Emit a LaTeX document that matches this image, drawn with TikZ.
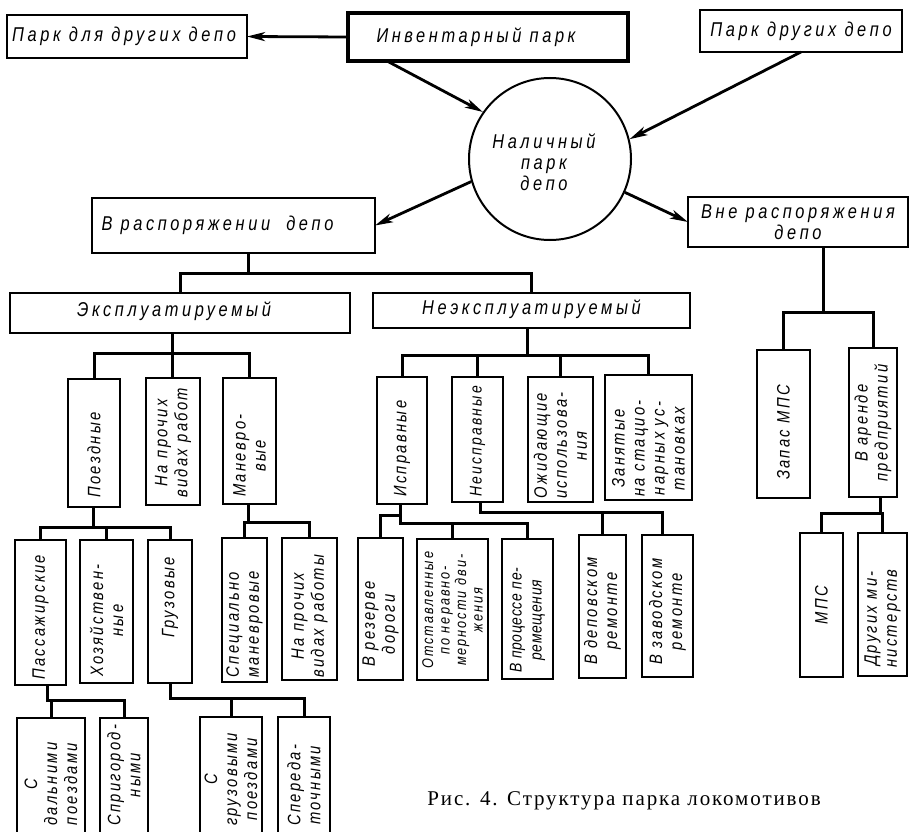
\documentclass[tikz,border=0pt]{standalone}
\usepackage{fontspec}
\setmainfont{Liberation Serif}
\newfontfamily\drafth[FakeStretch=0.82,LetterSpace=18]{Liberation Sans}
\newfontfamily\draftv[FakeStretch=0.82,LetterSpace=13]{Liberation Sans}
\newfontfamily\draftnarrow[FakeStretch=0.82,LetterSpace=4]{Liberation Sans}
\newfontfamily\capfont[LetterSpace=9]{Liberation Serif}
\usetikzlibrary{arrows.meta,calc}

\tikzset{
  boxline/.style={draw=black, line width=2pt, rectangle, inner sep=0pt, outer sep=0pt},
  heavybox/.style={boxline, line width=3.2pt},
  htext/.style={font=\drafth\itshape\fontsize{20}{21}\selectfont, align=center, inner sep=0pt},
  vtext/.style={font=\draftv\itshape\fontsize{18}{20}\selectfont, align=center, inner sep=0pt, rotate=90},
  link/.style={line width=3pt, line join=miter},
  arr/.style={line width=2.8pt, -{Stealth[length=18pt, width=9pt, inset=5pt]}},
}

% box spanning (x1,y1)-(x2,y2) in pixel units, y growing downwards
\newcommand{\boxat}[6][boxline]{%
  \node[#1, minimum width={(#5-#3)*1pt}, minimum height={(#6-#4)*1pt}]
    (#2) at ({(#3+#5)/2},{(#4+#6)/2}) {};}
% upright-reading text that starts a given distance above a box's bottom edge
\newcommand{\uptext}[4][]{%
  \node[vtext, anchor=west, #1] (#2t) at ($(#2.south)+(0,-#3)$) {#4};}

\begin{document}
\begin{tikzpicture}[x=1pt, y=-1pt]
\useasboundingbox (0,0) rectangle (910,832);
\clip (0,0) rectangle (910,832);

% ---------- top level ----------
\boxat{pdl}{7}{15}{247}{58}
\node[htext] (pdlt) at ([xshift=-3pt]pdl.center) {Парк для других депо};
\boxat[heavybox]{inv}{348}{13}{628}{61}
\node[htext] (invt) at ([xshift=-12pt]inv.center) {Инвентарный парк};
\boxat{pdd}{700}{10}{902}{52}
\node[htext] (pddt) at (pdd) {Парк других депо};

\node[draw, circle, line width=2pt, minimum size=162pt, inner sep=0pt] (circ) at (550,159) {};
\node[htext, text depth=0pt] (circt) at (544,162) {Наличный\\парк\\депо};

\boxat{vr}{92}{198}{375}{253}
\node[htext] (vrt) at ([xshift=-16pt]vr.center) {В распоряжении\hspace{8pt} депо};
\boxat{vne}{688}{197}{908}{247}
\node[htext] (vnet) at (vne) {Вне распоряжения\\депо};

\draw[arr] (inv.west) -- (pdl.east);
\draw[arr] ([xshift=39pt]inv.south west) -- (circ.145);
\draw[arr] (pdd.south) -- (circ.14);
\draw[arr] (circ.196) -- (vr.east);
\draw[arr] (circ.336) -- (vne.west);

% ---------- second level ----------
\boxat{expl}{10}{293}{350}{333}
\node[htext] (explt) at ([xshift=-6pt,yshift=2pt]expl.center) {Эксплуатируемый};
\boxat{nexpl}{373}{293}{690}{328}
\node[htext] (nexplt) at ([yshift=1pt]nexpl.center) {Неэксплуатируемый};

\coordinate (bvr) at (248,273);
\draw[link] (vr.south -| bvr) -- (bvr) -| (expl.north);
\draw[link] (bvr) -| (nexpl.north);

% ---------- exploited fleet ----------
\boxat{poezd}{68}{379}{120}{507}
\uptext{poezd}{9}{Поездные}
\boxat{proch}{146}{378}{200}{505}
\uptext{proch}{7}{На прочих\\видах работ}
\boxat{manev}{223}{378}{276}{504}
\uptext{manev}{7}{Маневро-\\вые}

\coordinate (bex) at (172,353);
\draw[link] (expl.south -| bex) -- (bex) -| (poezd.north);
\draw[link] (bex) -- (proch.north -| bex);
\draw[link] (bex) -| (manev.north);

\boxat{pass}{15}{540}{66}{685}
\uptext{pass}{5}{Пассажирские}
\boxat{hoz}{80}{540}{133}{683}
\uptext{hoz}{6}{Хозяйствен-\\ные}
\boxat{gruz}{148}{540}{192}{683}
\uptext{gruz}{45}{Грузовые}

\coordinate (bpo) at (93,527);
\draw[link] (poezd.south -| bpo) -- (bpo) -| (pass.north);
\draw[link] (bpo) -| (hoz.north);
\draw[link] (bpo) -| (gruz.north);

\boxat{spec}{222}{538}{267}{682}
\uptext{spec}{4}{Специально\\маневровые}
\boxat{prochb}{282}{538}{337}{680}
\uptext{prochb}{2}{На прочих\\видах работы}

\coordinate (bma) at (248,522);
\draw[link] (manev.south -| bma) -- (bma) -| (spec.north);
\draw[link] (bma) -| (prochb.north);

\boxat{dal}{17}{718}{85}{880}
\uptext{dal}{54}{С\\дальними\\поездами}
\boxat{prig}{100}{718}{148}{880}
\uptext{prig}{54}{Спригород-\\ными}

\coordinate (bpa) at (47,700);
\draw[link] (pass.south -| bpa) -- (bpa) -| (dal.north);
\draw[link] (bpa) -| (prig.north);

\boxat{gpoezd}{200}{717}{262}{880}
\uptext{gpoezd}{54}{С\\грузовыми\\поездами}
\boxat{pered}{278}{717}{330}{880}
\uptext{pered}{54}{Спереда-\\точными}

\coordinate (bgr) at (170,698);
\draw[link] (gruz.south -| bgr) -- (bgr) -| (gpoezd.north);
\draw[link] (bgr) -| (pered.north);

% ---------- non-exploited fleet ----------
\boxat{ispr}{377}{377}{427}{504}
\uptext{ispr}{7}{Исправные}
\boxat{neispr}{452}{377}{503}{502}
\uptext[font=\draftv\itshape\fontsize{17}{20}\selectfont]{neispr}{5}{Неисправные}
\boxat{ozhid}{528}{377}{593}{502}
\uptext{ozhid}{3}{Ожидающие\\использова-\\ния}
\boxat{zan}{605}{375}{692}{500}
\uptext{zan}{3}{Занятые\\на стацио-\\нарных ус-\\тановках}

\coordinate (bne) at (527,355);
\draw[link] (nexpl.south -| bne) -- (bne) -| (ispr.north);
\draw[link] (bne) -| (neispr.north);
\draw[link] (bne) -| (ozhid.north);
\draw[link] (bne) -| (zan.north);

\boxat{rez}{358}{538}{403}{680}
\uptext{rez}{13}{В резерве\\дороги}
\boxat{otst}{417}{539}{488}{680}
\uptext[font=\draftv\itshape\fontsize{15.5}{16.5}\selectfont]{otst}{11}{Отставленные\\по неравно-\\мерности дви-\\жения}
\boxat{proc}{502}{539}{553}{679}
\uptext[font=\draftnarrow\itshape\fontsize{17}{20}\selectfont]{proc}{6}{В процессе пе-\\ремещения}

\coordinate (bi1) at (400,515);
\coordinate (bi2) at (400,523);
\draw[link] (ispr.south -| bi1) -- (bi2) -| (proc.north);
\draw[link] (bi1) -| (rez.north);
\draw[link] (bi2) -| (otst.north);

\boxat{dep}{579}{535}{626}{678}
\uptext{dep}{13}{В деповском\\ремонте}
\boxat{zav}{642}{535}{693}{677}
\uptext{zav}{12}{В заводском\\ремонте}

\coordinate (bns) at (480,512);
\draw[link] (neispr.south -| bns) -- (bns) -| (dep.north);
\draw[link] (bns) -| ([xshift=-5pt]zav.north);

% ---------- outside the depot ----------
\boxat{zapas}{757}{350}{810}{498}
\uptext{zapas}{18}{Запас МПС}
\boxat{arenda}{849}{348}{897}{497}
\uptext{arenda}{15}{В аренде\\предприятий}

\coordinate (bvn) at (823,312);
\draw[link] (vne.south -| bvn) -- (bvn) -| (zapas.north);
\draw[link] (bvn) -| (arenda.north);

\boxat{mps}{800}{533}{843}{677}
\node[vtext] (mpst) at (mps) {МПС};
\boxat{drmin}{858}{533}{907}{676}
\uptext{drmin}{8}{Других ми-\\нистерств}

\coordinate (bar) at (880,513);
\draw[link] (arenda.south -| bar) -- (bar) -| (mps.north);
\draw[link] (bar) -| (drmin.north);

% ---------- caption ----------
\node[font=\capfont\fontsize{21}{24}\selectfont, inner sep=0pt] (cap) at (624,801)
  {Рис. 4. Структура парка локомотивов};
\end{tikzpicture}
\end{document}
